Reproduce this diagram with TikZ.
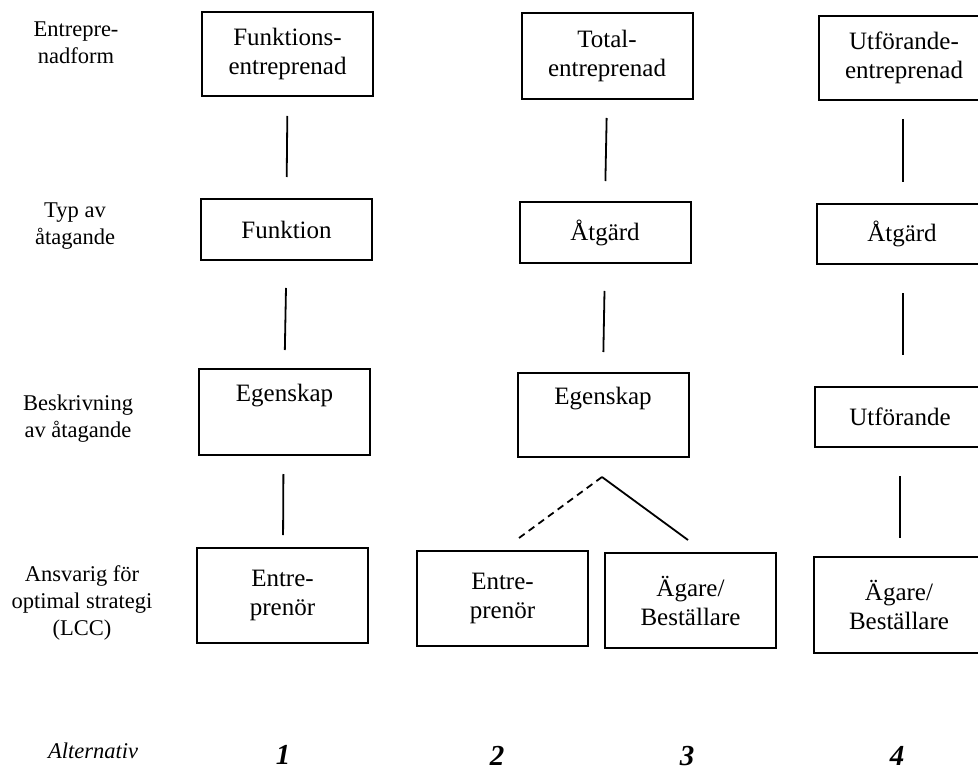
\documentclass[tikz,border=0pt]{standalone}
\usepackage{fontspec}
\setmainfont{Liberation Serif}
\begin{document}
\begin{tikzpicture}[x=1pt,y=-1pt,
  box/.style={draw, line width=2pt, minimum width=171pt, inner sep=0pt, align=center,
    font=\fontsize{25}{29}\selectfont},
  rowlabel/.style={align=center, inner sep=0pt, font=\fontsize{22.5}{27}\selectfont},
  altnum/.style={inner sep=0pt, font=\fontsize{29}{29}\selectfont\bfseries\itshape},
  link/.style={line width=1.8pt}]
\useasboundingbox (0,0) rectangle (978,773);
\clip (0,0) rectangle (978,773);

% row labels
\node[rowlabel] (r1) at (76,43) {Entrepre-\\nadform};
\node[rowlabel] (r2) at (75,226) {Typ av\\åtagande};
\node[rowlabel] (r3) at (78,419) {Beskrivning\\av åtagande};
\node[rowlabel] (r4) at (82,603) {Ansvarig för\\optimal strategi\\(LCC)};
\node[rowlabel, font=\fontsize{22.5}{27}\selectfont\itshape] (r5) at (93,751) {Alternativ};

% column 1
\node[box, minimum height=84pt] (a1) at (287.5,54) {Funktions-\\entreprenad};
\node[box, minimum height=61pt] (b1) at (286.5,229.5) {Funktion};
\node[box, minimum height=86pt] (c1) at (284.5,412) {Egenskap\\\strut};
\node[box, minimum height=95pt] (d1) at (282.5,595.5) {Entre-\\prenör};

% column 2/3
\node[box, minimum height=86pt] (a2) at (607,56) {Total-\\entreprenad};
\node[box, minimum height=61pt] (b2) at (605,232.5) {Åtgärd};
\node[box, minimum height=84pt] (c2) at (603,415) {Egenskap\\\strut};
\node[box, minimum height=95pt] (d2) at (502.5,598.5) {Entre-\\prenör};
\node[box, minimum height=95pt] (d3) at (690.5,600.5) {Ägare/\\Beställare};

% column 4
\node[box, minimum height=84pt] (a4) at (904,58) {Utförande-\\entreprenad};
\node[box, minimum height=60pt] (b4) at (902,234) {Åtgärd};
\node[box, minimum height=60pt] (c4) at (900,417) {Utförande};
\node[box, minimum height=96pt] (d4) at (899,605) {Ägare/\\Beställare};

% connectors
\draw[link, shorten <=19pt, shorten >=21pt] (a1.south) -- (b1.north);
\draw[link, shorten <=27pt, shorten >=18pt] (b1.south) -- (c1.north);
\draw[link, shorten <=18pt, shorten >=12pt] ([xshift=-1pt]c1.south) -- ([xshift=0.5pt]d1.north);

\draw[link, shorten <=18pt, shorten >=20pt] (a2.south) -- (b2.north);
\draw[link, shorten <=27pt, shorten >=20pt] (b2.south) -- (c2.north);

\draw[link, shorten <=18pt, shorten >=21pt] ([xshift=-1pt]a4.south) -- ([xshift=1pt]b4.north);
\draw[link, shorten <=28pt, shorten >=31pt] ([xshift=1pt]b4.south) -- ([xshift=3pt]c4.north);
\draw[link, shorten <=28pt, shorten >=18pt] (c4.south) -- ([xshift=1pt]d4.north);

% fork
\coordinate (apex) at (602,477);
\coordinate (e2) at (519,538);
\coordinate (e3) at (688,540);
\draw[link, dash pattern=on 7pt off 5pt] (apex) -- (e2);
\draw[link] (apex) -- (e3);

% alternative numbers
\node[altnum] (n1) at (283,755) {1};
\node[altnum] (n2) at (497,756) {2};
\node[altnum] (n3) at (687,756) {3};
\node[altnum] (n4) at (897,756) {4};
\end{tikzpicture}
\end{document}
